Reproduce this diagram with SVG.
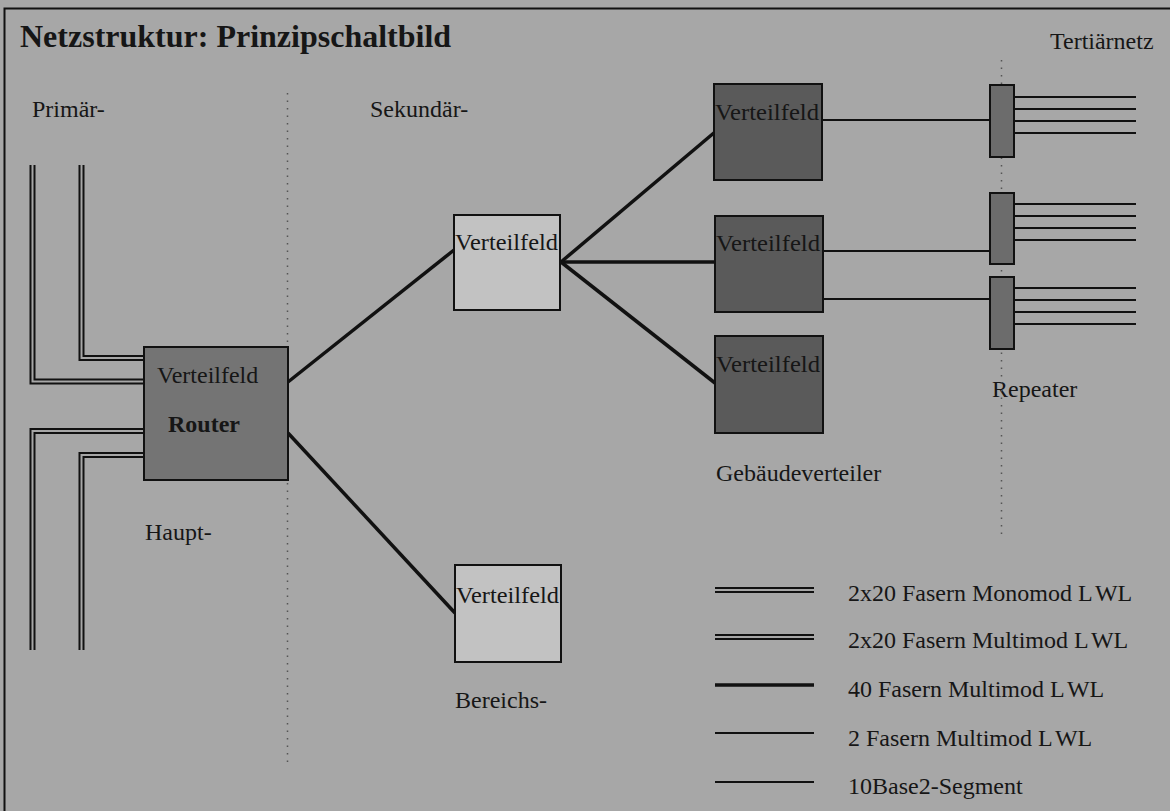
<svg xmlns="http://www.w3.org/2000/svg" width="1170" height="811" viewBox="0 0 1170 811">
<style>
text{font-family:"Liberation Serif","Times New Roman",serif;fill:#161616;font-size:24px}
.title{font-size:32px;font-weight:bold}
.bold{font-weight:bold}
.box{stroke:#111;stroke-width:2}
.dark{fill:#5a5a5a}
.light{fill:#c2c2c2}
.router{fill:#747474}
.rep{fill:#6c6c6c}
.thick{stroke:#111;stroke-width:3.5;fill:none}
.thin{stroke:#111;stroke-width:2;fill:none}
.dblo{stroke:#111;stroke-width:6;fill:none;stroke-linejoin:miter}
.dbli{stroke:#a7a7a7;stroke-width:2;fill:none;stroke-linejoin:miter}
.dot{stroke:#555;stroke-width:1.5;stroke-dasharray:1.5 6;fill:none}
</style>
<rect x="0" y="0" width="1170" height="811" fill="#a7a7a7"/>
<path d="M4.5,811 V8.5 H1170" fill="none" stroke="#111" stroke-width="2"/>

<g id="labels">
<text class="title" x="20" y="47">Netzstruktur: Prinzipschaltbild</text>
<text x="32" y="117">Primär-</text>
<text x="370" y="117">Sekundär-</text>
<text x="1050" y="49">Tertiärnetz</text>
<text x="145" y="540">Haupt-</text>
<text x="455" y="708">Bereichs-</text>
<text x="716" y="481">Gebäudeverteiler</text>
<text x="992" y="397">Repeater</text>
</g>

<g id="dividers">
<path class="dot" d="M287.5,93 V765"/>
<path class="dot" d="M1001.5,60 V535"/>
</g>

<g id="connectors">
<path class="dblo" d="M32.5,165 V381.5 H144"/>
<path class="dbli" d="M32.5,165 V381.5 H144"/>
<path class="dblo" d="M81.5,165 V358 H144"/>
<path class="dbli" d="M81.5,165 V358 H144"/>
<path class="dblo" d="M32.5,650 V431 H144"/>
<path class="dbli" d="M32.5,650 V431 H144"/>
<path class="dblo" d="M81.5,650 V455 H144"/>
<path class="dbli" d="M81.5,650 V455 H144"/>
<path class="thick" d="M288,382 L454,250"/>
<path class="thick" d="M288,433 L455,613"/>
<path class="thick" d="M561,262 L715,132"/>
<path class="thick" d="M561,262 L715,262"/>
<path class="thick" d="M561,262 L715,383"/>
<path class="thin" d="M822,120 H990"/>
<path class="thin" d="M823,251 H990"/>
<path class="thin" d="M823,299 H990"/>
<path class="thin" d="M1014,97 H1136 M1014,109 H1136 M1014,121 H1136 M1014,133 H1136"/>
<path class="thin" d="M1014,204 H1136 M1014,216 H1136 M1014,228 H1136 M1014,240 H1136"/>
<path class="thin" d="M1014,288 H1136 M1014,300 H1136 M1014,312 H1136 M1014,324 H1136"/>
</g>

<g id="router">
<rect class="box router" x="144" y="347" width="144" height="133"/>
<text x="157" y="383">Verteilfeld</text>
<text class="bold" x="168" y="432">Router</text>
</g>
<g id="sekundaer">
<rect class="box light" x="454" y="215" width="106" height="95"/>
<text x="455" y="250" textLength="103" lengthAdjust="spacingAndGlyphs">Verteilfeld</text>
</g>
<g id="bereich">
<rect class="box light" x="455" y="565" width="106" height="97"/>
<text x="456" y="603" textLength="103" lengthAdjust="spacingAndGlyphs">Verteilfeld</text>
</g>
<g id="gebaeude1">
<rect class="box dark" x="714" y="84" width="108" height="96"/>
<text x="715" y="120" textLength="104" lengthAdjust="spacingAndGlyphs">Verteilfeld</text>
</g>
<g id="gebaeude2">
<rect class="box dark" x="715" y="216" width="108" height="96"/>
<text x="716" y="251" textLength="104" lengthAdjust="spacingAndGlyphs">Verteilfeld</text>
</g>
<g id="gebaeude3">
<rect class="box dark" x="715" y="336" width="108" height="97"/>
<text x="716" y="372" textLength="104" lengthAdjust="spacingAndGlyphs">Verteilfeld</text>
</g>
<g id="repeater1"><rect class="box rep" x="990" y="85" width="24" height="72"/></g>
<g id="repeater2"><rect class="box rep" x="990" y="193" width="24" height="71"/></g>
<g id="repeater3"><rect class="box rep" x="990" y="277" width="24" height="72"/></g>

<g id="legend">
<path class="dblo" d="M715,590 H814"/>
<path class="dbli" d="M715,590 H814"/>
<path class="dblo" d="M715,637 H814"/>
<path class="dbli" d="M715,637 H814"/>
<path class="thick" d="M715,685 H814"/>
<path class="thin" d="M715,733 H814"/>
<path class="thin" d="M715,782 H814"/>
<text x="848" y="601">2x20 Fasern Monomod L<tspan dx="4">WL</tspan></text>
<text x="848" y="648">2x20 Fasern Multimod L<tspan dx="4">WL</tspan></text>
<text x="848" y="697">40 Fasern Multimod L<tspan dx="4">WL</tspan></text>
<text x="848" y="746">2 Fasern Multimod L<tspan dx="4">WL</tspan></text>
<text x="848" y="794">10Base2-Segment</text>
</g>
</svg>
